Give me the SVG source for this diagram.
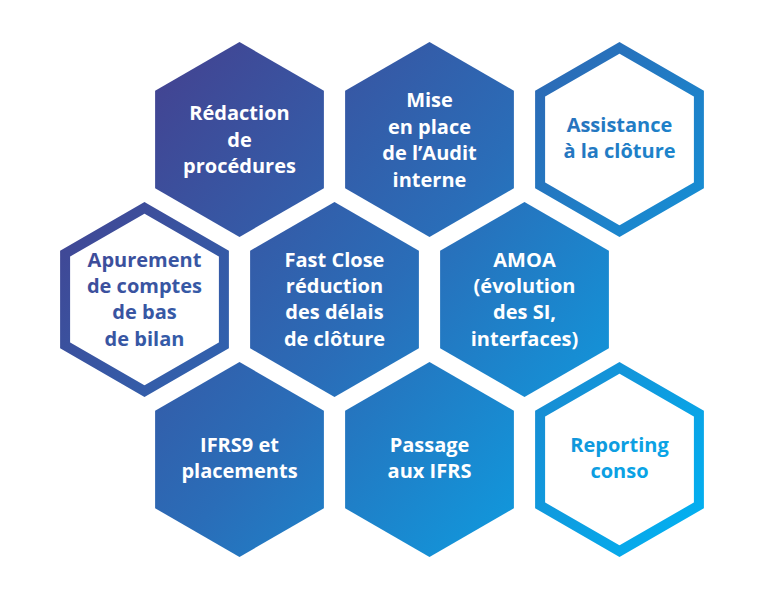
<svg xmlns="http://www.w3.org/2000/svg" width="765" height="600" viewBox="0 0 765 600">
  <defs>
    <linearGradient id="g" gradientUnits="userSpaceOnUse" x1="60" y1="40" x2="700" y2="560">
      <stop offset="0" stop-color="#4A3786"/>
      <stop offset="0.5" stop-color="#2A6DB8"/>
      <stop offset="1" stop-color="#00B4F4"/>
    </linearGradient>
  </defs>
  <style>
    .solid { fill: url(#g); }
    .ring { fill: #FFFFFF; stroke: url(#g); stroke-width: 10; stroke-linejoin: miter; }
    text { font-family: "Open Sans", "Liberation Sans", sans-serif; font-weight: 700; font-size: 20px; text-anchor: middle; }
    .w { fill: #FFFFFF; }
    .c { fill: url(#g); }
  </style>
  <rect width="765" height="600" fill="#FFFFFF"/>
  <g id="connectors"/>
  <g id="n1">
    <polygon class="solid" points="239.5,42 323.9,90.75 323.9,188.25 239.5,237 155.1,188.25 155.1,90.75"/>
    <text class="w" x="239.5" y="120">Rédaction</text>
    <text class="w" x="239.5" y="147">de</text>
    <text class="w" x="239.5" y="173">procédures</text>
  </g>
  <g id="n2">
    <polygon class="solid" points="429.5,42 513.9,90.75 513.9,188.25 429.5,237 345.1,188.25 345.1,90.75"/>
    <text class="w" x="429.5" y="107">Mise</text>
    <text class="w" x="429.5" y="134">en place</text>
    <text class="w" x="429.5" y="160">de l’Audit</text>
    <text class="w" x="429.5" y="187">interne</text>
  </g>
  <g id="n3">
    <polygon class="ring" points="619.5,47.8 698.9,93.65 698.9,185.35 619.5,231.2 540.1,185.35 540.1,93.65"/>
    <text class="c" x="619.5" y="132">Assistance</text>
    <text class="c" x="619.5" y="158">à la clôture</text>
  </g>
  <g id="n4">
    <polygon class="ring" points="144.5,207.8 223.9,253.65 223.9,345.35 144.5,391.2 65.1,345.35 65.1,253.65"/>
    <text class="c" x="144.5" y="267">Apurement</text>
    <text class="c" x="144.5" y="293">de comptes</text>
    <text class="c" x="144.5" y="319">de bas</text>
    <text class="c" x="144.5" y="346">de bilan</text>
  </g>
  <g id="n5">
    <polygon class="solid" points="334.5,202 418.9,250.75 418.9,348.25 334.5,397 250.1,348.25 250.1,250.75"/>
    <text class="w" x="334.5" y="267">Fast Close</text>
    <text class="w" x="334.5" y="293">réduction</text>
    <text class="w" x="334.5" y="319">des délais</text>
    <text class="w" x="334.5" y="346">de clôture</text>
  </g>
  <g id="n6">
    <polygon class="solid" points="524.5,202 608.9,250.75 608.9,348.25 524.5,397 440.1,348.25 440.1,250.75"/>
    <text class="w" x="524.5" y="267">AMOA</text>
    <text class="w" x="524.5" y="293">(évolution</text>
    <text class="w" x="524.5" y="319">des SI,</text>
    <text class="w" x="524.5" y="346">interfaces)</text>
  </g>
  <g id="n7">
    <polygon class="solid" points="239.5,362 323.9,410.75 323.9,508.25 239.5,557 155.1,508.25 155.1,410.75"/>
    <text class="w" x="239.5" y="452">IFRS9 et</text>
    <text class="w" x="239.5" y="478">placements</text>
  </g>
  <g id="n8">
    <polygon class="solid" points="429.5,362 513.9,410.75 513.9,508.25 429.5,557 345.1,508.25 345.1,410.75"/>
    <text class="w" x="429.5" y="452">Passage</text>
    <text class="w" x="429.5" y="478">aux IFRS</text>
  </g>
  <g id="n9">
    <polygon class="ring" points="619.5,367.8 698.9,413.65 698.9,505.35 619.5,551.2 540.1,505.35 540.1,413.65"/>
    <text class="c" x="619.5" y="452">Reporting</text>
    <text class="c" x="619.5" y="478">conso</text>
  </g>
</svg>
